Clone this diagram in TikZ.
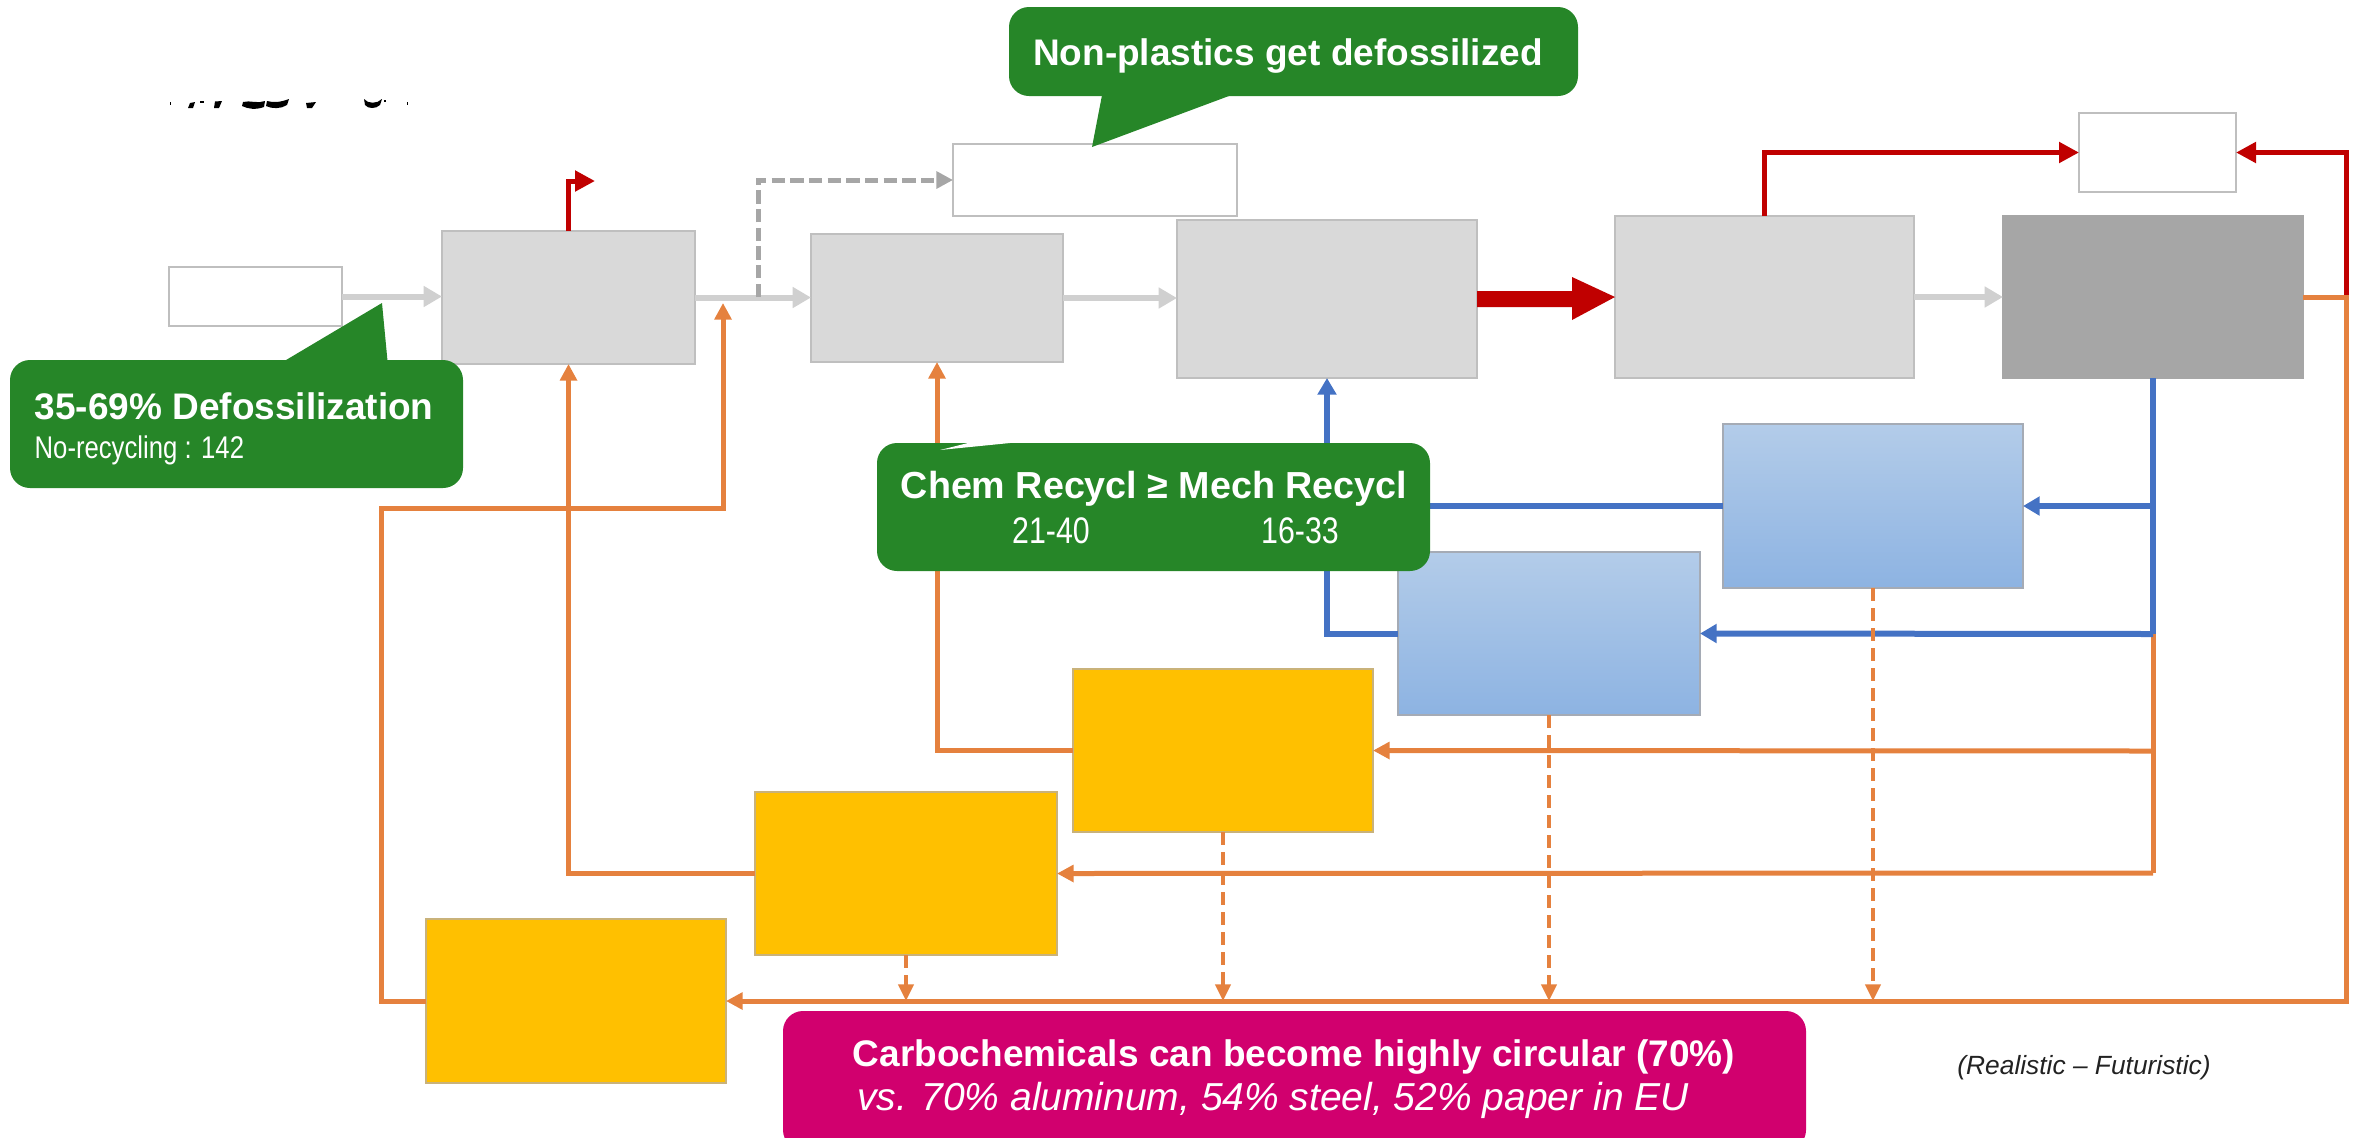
\documentclass[tikz,border=0pt]{standalone}
\usepackage{fontspec}
\setmainfont{Liberation Sans}
\newfontfamily\narrowfont[FakeStretch=0.82]{Liberation Sans}
\usetikzlibrary{arrows.meta,calc}
\definecolor{greenc}{HTML}{268628}
\definecolor{magentac}{HTML}{D1006E}
\definecolor{yellowc}{HTML}{FFC000}
\definecolor{ybord}{HTML}{C9B27A}
\definecolor{redc}{HTML}{C00000}
\definecolor{orangec}{HTML}{E5813E}
\definecolor{bluec}{HTML}{4472C4}
\definecolor{arrgrey}{HTML}{D0D0D0}
\definecolor{dgrey}{HTML}{A6A6A6}
\definecolor{boxgrey}{HTML}{D9D9D9}
\definecolor{bordergrey}{HTML}{BFBFBF}
\definecolor{darkbox}{HTML}{A6A6A6}
\definecolor{bluetop}{HTML}{B3CCE9}
\definecolor{bluebot}{HTML}{8DB3E2}
\definecolor{bbord}{HTML}{A5ABB5}
\definecolor{txtgrey}{HTML}{222222}
\newcommand\bx[6]{\node[#6, minimum width={(#4-#2)*0.3pt}, minimum height={(#5-#3)*0.3pt}] (#1) at ({(#2+#4)/2},{(#3+#5)/2}) {};}
\begin{document}
\begin{tikzpicture}[x=0.3pt,y=-0.3pt,
  basebox/.style={inner sep=0pt, outer sep=0pt, line width=0.4pt},
  lbox/.style={basebox, draw=bordergrey, fill=boxgrey},
  dbox/.style={basebox, draw=dgrey, fill=darkbox},
  wbox/.style={basebox, draw=bordergrey, fill=white},
  ybox/.style={basebox, draw=ybord, fill=yellowc},
  bbox/.style={basebox, draw=bbord, top color=bluetop, bottom color=bluebot},
  gcall/.style={basebox, draw=none, fill=greenc, rounded corners=6pt},
  mcall/.style={basebox, draw=none, fill=magentac, rounded corners=6pt},
  garrow/.style={draw=arrgrey, line width=1.8pt, -{Triangle[length=5.5pt,width=6pt]}},
  gdash/.style={draw=dgrey, line width=1.5pt, dash pattern=on 4pt off 1.6pt, -{Triangle[length=5pt,width=5pt]}},
  oline/.style={draw=orangec, line width=1.5pt},
  oarrow/.style={oline, -{Triangle[length=5pt,width=5pt]}},
  odash/.style={draw=orangec, line width=1.2pt, dash pattern=on 4pt off 2pt, -{Triangle[length=5pt,width=4.5pt]}},
  bline/.style={draw=bluec, line width=1.8pt},
  barrow/.style={bline, -{Triangle[length=5pt,width=5.5pt]}},
  rline/.style={draw=redc, line width=1.5pt, -{Triangle[length=6pt,width=6pt]}},
  wtext/.style={text=white, inner sep=0pt, anchor=base}
]
\useasboundingbox (0,0) rectangle (2369,1137);

% ---------- boxes ----------
\bx{in}{169}{267}{342}{326}{wbox}
\bx{b1}{442}{231}{695}{364}{lbox}
\bx{w2}{953}{144}{1237}{216}{wbox}
\bx{b2}{811}{234}{1063}{362}{lbox}
\bx{b3}{1177}{220}{1477}{378}{lbox}
\bx{b4}{1615}{216}{1914}{378}{lbox}
\bx{b5}{2003}{216}{2303}{378}{dbox}
\bx{w3}{2079}{113}{2236}{192}{wbox}
\bx{bb1}{1723}{424}{2023}{588}{bbox}
\bx{bb2}{1398}{552}{1700}{715}{bbox}
\bx{y1}{1073}{669}{1373}{832}{ybox}
\bx{y2}{755}{792}{1057}{955}{ybox}
\bx{y3}{426}{919}{726}{1083}{ybox}

% ---------- junction points ----------
\coordinate (gj1) at (723,303);
\coordinate (gj2) at (758,297);
\coordinate (rt1) at (595,181);
\coordinate (rj) at (2346,297);
\coordinate (rb) at (2346,1001);
\coordinate (bj1) at (2153,506);
\coordinate (bj2) at (2153,634);
\coordinate (oj1) at (2153,751);
\coordinate (oj2) at (2153,873);
\coordinate (bm) at (1327,506);
\coordinate (ol1) at (381,1001);
\coordinate (ol2) at (381,508);
\coordinate (ol3) at (723,508);

% ---------- grey flow ----------
\draw[garrow] (in.east) -- (in.east -| b1.west);
\draw[garrow] (b1.east) -- (b1.east -| b2.west);
\draw[garrow] (b2.east) -- (b2.east -| b3.west);
\draw[garrow] (b4.east) -- (b4.east -| b5.west);
\draw[gdash] (gj2) |- (w2.west);

% big red arrow b3 -> b4
\fill[redc] ($(b3.east)+(0,-8)$) -- (1572,291) -- (1572,277) -- (b4.west) -- (1572,320) -- (1572,307) -- ($(b3.east)+(0,8)$) -- cycle;

% ---------- red lines ----------
\draw[rline] (b1.north) |- (rt1);
\draw[rline] (b4.north) |- (w3.west);
\draw[rline] (rj) |- (w3.east);

% ---------- orange feedback ----------
\draw[oarrow] (b5.east) -- (rj) -- (rb) -- (y3.east);
\draw[oarrow] (y3.west) -- (ol1) -- (ol2) -- (ol3) -- (gj1);
\draw[oarrow] (y2.west) -| (b1.south);
\draw[oarrow] (y1.west) -| (b2.south);
\draw[oline] (bj2) -- (oj2);
\draw[oarrow] (oj1) -- (y1.east);
\draw[oarrow] (oj2) -- (y2.east);

% ---------- blue ----------
\draw[bline] (b5.south) -- (bj2);
\draw[barrow] (bj1) -- (bb1.east);
\draw[barrow] (bj2) -- (bb2.east);
\draw[bline] (bb1.west) -- (bm);
\draw[barrow] (bb2.west) -| (b3.south);

% ---------- dashed orange ----------
\draw[odash] (y2.south) -- (y2.south |- y3.east);
\draw[odash] (y1.south) -- (y1.south |- y3.east);
\draw[odash] (bb2.south) -- (bb2.south |- y3.east);
\draw[odash] (bb1.south) -- (bb1.south |- y3.east);

% ---------- callouts ----------
\bx{c1}{1009}{7}{1578}{96}{gcall}
\fill[greenc] (1103,90) -- (1092,147) -- (1245,90) -- cycle;
\node[wtext, font=\bfseries\fontsize{11.1}{13}\selectfont] (t1) at (1288,65) {Non-plastics get defossilized};

\bx{c2}{10}{360}{463}{488}{gcall}
\fill[greenc] (276,366) -- (382,303) -- (388,366) -- cycle;
\node[wtext, anchor=base west, font=\bfseries\fontsize{11.1}{13}\selectfont] (t2) at (34,419) {35-69\% Defossilization};
\node[wtext, anchor=base west, font=\narrowfont\fontsize{9.4}{11}\selectfont] (t3) at (34,458) {No-recycling : 142};

\bx{c3}{877}{443}{1430}{571}{gcall}
\fill[white] (940,450) -- (968,443) -- (1010,443) -- cycle;
\node[wtext, font=\bfseries\fontsize{11.3}{13}\selectfont] (t4) at (1154,498) {Chem Recycl ≥ Mech Recycl};
\node[wtext, font=\narrowfont\fontsize{11.1}{13}\selectfont] (t5) at (1051,543) {21-40};
\node[wtext, font=\narrowfont\fontsize{11.1}{13}\selectfont] (t6) at (1300,543) {16-33};

\bx{c4}{783}{1011}{1806}{1150}{mcall}
\node[wtext, font=\bfseries\fontsize{11.1}{13}\selectfont] (t7) at (1294,1066) {Carbochemicals can become highly circular (70\%)};
\node[wtext, font=\itshape\fontsize{11.7}{13}\selectfont] (t8) at (1273,1110) {vs. 70\% aluminum, 54\% steel, 52\% paper in EU};

\node[anchor=base, inner sep=0pt, text=txtgrey, font=\itshape\fontsize{7.9}{10}\selectfont] (t9) at (2084,1074) {(Realistic – Futuristic)};

% ---------- clipped fragments at top left ----------
\fill[black] (169.5,101.5) rectangle (171,104.5);
\fill[black] (190,103) -- (195,102) -- (193,108) -- (188,108) -- cycle;
\fill[black] (200,100.5) rectangle (204,102.5);
\fill[black] (215,101.5) -- (222,101) -- (219,108) -- (214,108) -- cycle;
\fill[black] (243,102) .. controls (250,100) and (258,104) .. (265,101) -- (264,107) .. controls (256,110) and (248,109) .. (242,106) -- cycle;
\fill[black] (267,101) .. controls (274,103) and (281,102) .. (289,99) -- (287,105) .. controls (281,109) and (272,109) .. (266,106) -- cycle;
\fill[black] (306,103) -- (316,102) -- (312,108) -- (307,108) -- cycle;
\fill[black] (364,99) .. controls (368,104) and (377,104) .. (382,99) -- (380,105) .. controls (376,109) and (368,109) .. (365,105) -- cycle;
\fill[black] (384,100) rectangle (386,102);
\fill[black] (406.5,102) rectangle (408,105);
\end{tikzpicture}
\end{document}
